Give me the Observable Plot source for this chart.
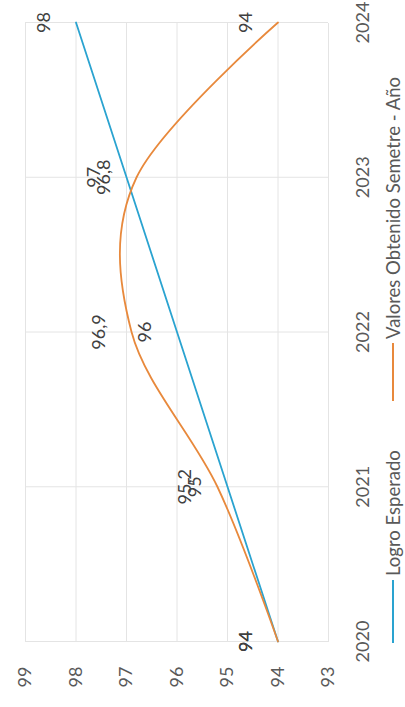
<!DOCTYPE html>
<html><head><meta charset="utf-8">
<script src="https://cdn.jsdelivr.net/npm/d3@7"></script>
<script src="https://cdn.jsdelivr.net/npm/@observablehq/plot@0.6"></script>
<style>
html,body{margin:0;padding:0;background:#fff;overflow:hidden;width:405px;height:707px}
#wrap{position:absolute;left:0;top:0;width:707px;height:405px;transform-origin:0 0;transform:translate(0px,707px) rotate(-90deg);font-family:Lato,sans-serif;background:#fff}
#chart{position:absolute;left:0;top:0}
#legend{position:absolute;left:0;top:378px;width:707px;height:30px;font-size:18.5px;color:#595959}
.sw{position:absolute;top:14px;height:2px}
.lt{position:absolute;top:0;line-height:30px;white-space:nowrap}
</style></head><body><div id="wrap"><div id="chart"></div><div id="legend"></div></div>
<script>
const years=[2020,2021,2022,2023,2024];
const logroEsperado=[94,95,96,97,98];
const valoresObtenidos=[94,95.2,96.9,96.8,94];
const labelsEsperado=["94","95","96","97","98"];
const labelsObtenidos=["94","95,2","96,9","96,8","94"];
const yTicks=[93,94,95,96,97,98,99];
const seriesNames=["Logro Esperado","Valores Obtenido Semetre - Año"];
const seriesColors=["#2aa3d0","#e8893c"];

const esperado=years.map((y,i)=>({year:y,value:logroEsperado[i],label:labelsEsperado[i]}));
const obtenido=years.map((y,i)=>({year:y,value:valoresObtenidos[i],label:labelsObtenidos[i]}));

const chart=Plot.plot({
  width:707,height:378,
  marginTop:25,marginBottom:50,marginLeft:65,marginRight:23,
  style:{fontFamily:"Lato, sans-serif",fontSize:"18px",color:"#595959",background:"#fff",overflow:"visible"},
  x:{domain:[2020,2024],ticks:years,tickFormat:d=>String(d),label:null,tickSize:0,tickPadding:28},
  y:{domain:[93,99],ticks:yTicks,tickFormat:d=>String(d),label:null,tickSize:0,tickPadding:25},
  marks:[
    Plot.gridX(years,{stroke:"#e4e4e4",strokeOpacity:1,strokeWidth:1}),
    Plot.gridY(yTicks,{stroke:"#e4e4e4",strokeOpacity:1,strokeWidth:1}),
    Plot.line(esperado,{x:"year",y:"value",stroke:seriesColors[0],strokeWidth:1.8}),
    Plot.line(obtenido,{x:"year",y:"value",stroke:seriesColors[1],strokeWidth:1.8,curve:"cardinal"}),
    Plot.text(esperado,{x:"year",y:"value",text:"label",dy:-32,fill:"#404040",fontSize:18}),
    Plot.text(obtenido,{x:"year",y:"value",text:"label",dy:-32,fill:"#404040",fontSize:18})
  ]
});
document.getElementById("chart").appendChild(chart);

const legend=document.getElementById("legend");
const swLeft=[64,306],swWidth=[63,58],txtLeft=[131,368];
seriesNames.forEach((name,i)=>{
  const sw=document.createElement("div");sw.className="sw";
  sw.style.left=swLeft[i]+"px";sw.style.width=swWidth[i]+"px";sw.style.background=seriesColors[i];
  const t=document.createElement("div");t.className="lt";t.style.left=txtLeft[i]+"px";t.textContent=name;
  legend.appendChild(sw);legend.appendChild(t);
});
</script></body></html>
